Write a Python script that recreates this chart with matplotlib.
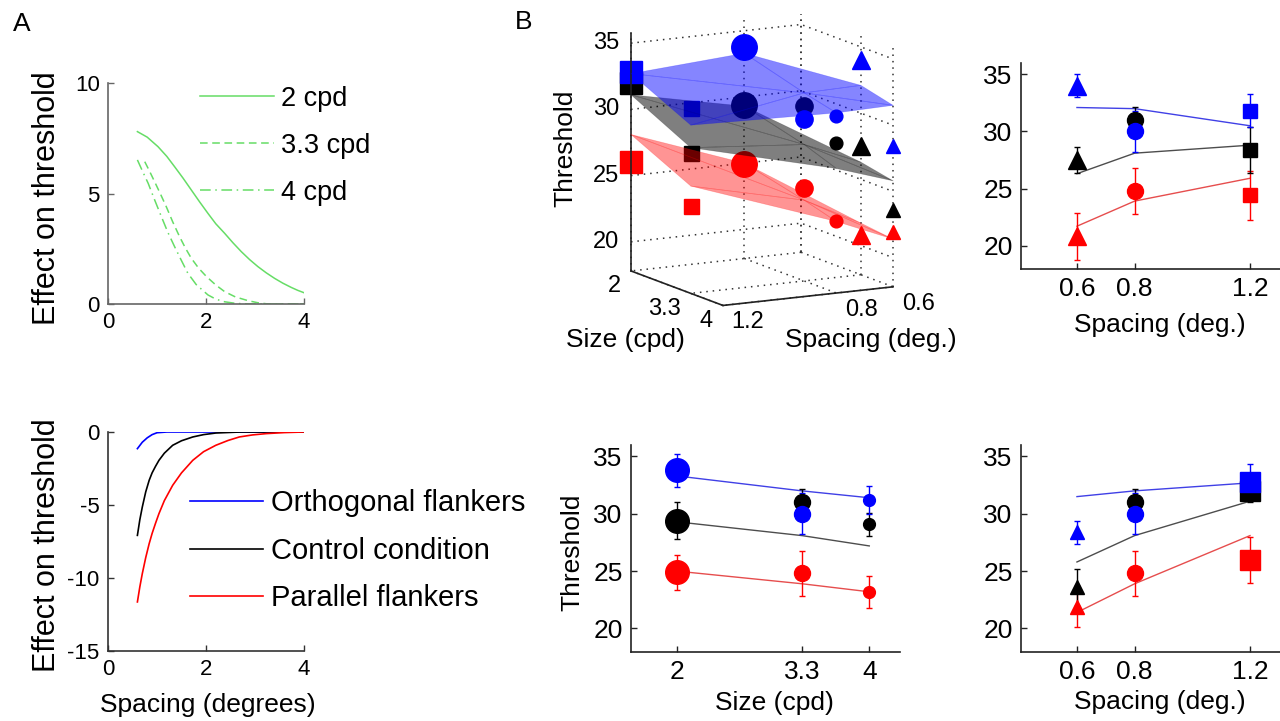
import numpy as np
import matplotlib
matplotlib.use('Agg')
import matplotlib.pyplot as plt
from mpl_toolkits.mplot3d import Axes3D  # noqa: F401
from mpl_toolkits.mplot3d import proj3d

plt.rcParams['font.family'] = ['Liberation Sans', 'DejaVu Sans']
plt.rcParams['axes.unicode_minus'] = False

# ---------------- data: panel A (top) ----------------
a_x_2cpd = [0.6, 0.8, 1.02, 1.2, 1.36, 1.53, 1.70, 1.87, 2.04, 2.2, 2.38, 2.55, 2.72, 2.89,
            3.06, 3.23, 3.40, 3.57, 3.74, 3.87, 4.0]
a_y_2cpd = [7.8, 7.55, 7.12, 6.68, 6.21, 5.7, 5.16, 4.62, 4.10, 3.63, 3.20, 2.77, 2.37, 2.01,
            1.69, 1.41, 1.16, 0.94, 0.75, 0.62, 0.51]
a_x_33cpd = [0.75, 0.85, 0.95, 1.07, 1.19, 1.32, 1.46, 1.58, 1.70, 1.85, 2.01, 2.2, 2.38, 2.6,
             2.86, 3.05, 3.27, 4.0]
a_y_33cpd = [6.44, 6.0, 5.54, 4.98, 4.40, 3.72, 3.05, 2.53, 2.07, 1.62, 1.24, 0.86, 0.56, 0.32,
             0.15, 0.06, 0.0, 0.0]
a_x_4cpd = [0.6, 0.7, 0.82, 0.95, 1.09, 1.22, 1.36, 1.5, 1.63, 1.8, 2.04, 2.2, 2.38, 2.6, 2.86, 4.0]
a_y_4cpd = [6.52, 6.03, 5.46, 4.72, 3.95, 3.25, 2.59, 1.96, 1.39, 0.88, 0.41, 0.22, 0.1, 0.03, 0.0, 0.0]
size_labels_A = ['2 cpd', '3.3 cpd', '4 cpd']

# ---------------- data: panel A (bottom) ----------------
b_x_orth = [0.6, 0.7, 0.8, 0.9, 1.0, 1.2, 4.0]
b_y_orth = [-1.14, -0.7, -0.4, -0.18, -0.05, 0.0, 0.0]
b_x_ctrl = [0.6, 0.65, 0.7, 0.77, 0.84, 0.9, 0.97, 1.04, 1.15, 1.32, 1.5, 1.73, 1.95, 2.2, 2.7, 4.0]
b_y_ctrl = [-7.08, -6.0, -5.14, -4.1, -3.31, -2.8, -2.35, -1.94, -1.45, -0.91, -0.6, -0.34,
            -0.18, -0.07, 0.0, 0.0]
b_x_par = [0.6, 0.65, 0.7, 0.77, 0.84, 0.9, 0.97, 1.04, 1.15, 1.32, 1.5, 1.73, 1.95, 2.2,
           2.45, 2.68, 2.95, 3.23, 3.6, 4.0]
b_y_par = [-11.64, -10.6, -9.7, -8.6, -7.65, -6.95, -6.25, -5.59, -4.7, -3.65, -2.8, -1.94,
           -1.35, -0.91, -0.58, -0.34, -0.2, -0.11, -0.04, 0.0]
cond_labels_A = ['Orthogonal flankers', 'Control condition', 'Parallel flankers']

# ---------------- data: panel B (7 conditions) ----------------
cond_spacing = [1.2, 1.2, 0.8, 0.8, 0.8, 0.6, 0.6]
cond_size = [2, 3.3, 2, 3.3, 4, 3.3, 4]
thr_orth = [32.8, 31.8, 33.8, 30.0, 31.2, 34.0, 28.4]
thr_ctrl = [32.0, 28.4, 29.4, 31.0, 29.1, 27.5, 23.6]
thr_par = [26.0, 24.4, 24.9, 24.8, 23.2, 20.8, 21.9]
err_orth = [1.5, 1.45, 1.45, 1.8, 1.25, 1.0, 1.0]
err_ctrl = [1.0, 2.0, 1.6, 1.15, 1.0, 1.15, 1.6]
err_par = [2.0, 2.15, 1.55, 2.0, 1.4, 2.1, 1.8]
model_orth = [32.7, 30.5, 33.3, 32.0, 31.4, 32.1, 31.5]
model_ctrl = [31.1, 28.8, 29.3, 28.1, 27.2, 26.3, 25.8]
model_par = [28.1, 25.9, 25.0, 23.9, 23.2, 21.7, 21.4]
spacing_ticks = [0.6, 0.8, 1.2]
spacing_ticklabels = ['0.6', '0.8', '1.2']
size_ticks = [2, 3.3, 4]
size_ticklabels = ['2', '3.3', '4']
thr_ticks = [20, 25, 30, 35]
# condition subsets shown in the 2D panels
idx_top_right = [5, 3, 1]     # 3.3 cpd, varying spacing
idx_bottom_mid = [2, 3, 4]    # 0.8 deg spacing, varying size
idx_bottom_right = [6, 3, 0]  # diagonal

# ---------------- styles ----------------
GREEN = '#66dd66'
BLUE, BLACK, RED = '#0000ff', '#000000', '#ff0000'
shape_of = {1.2: 's', 0.8: 'o', 0.6: '^'}
msize = [15, 10, 17, 11.5, 8.5, 12.5, 9.5]
series = [  # drawing order: red, black, blue on top
    (thr_par, err_par, model_par, RED, (0.9, 0.3, 0.3), (1, 0, 0, 0.42)),
    (thr_ctrl, err_ctrl, model_ctrl, BLACK, (0.3, 0.3, 0.3), (0, 0, 0, 0.5)),
    (thr_orth, err_orth, model_orth, BLUE, (0.25, 0.25, 0.9), (0, 0, 1, 0.48)),
]

fig = plt.figure(figsize=(12.8, 7.21), dpi=100)
W, H = 1280.0, 721.0
PT = 72.0 / 100.0  # points per pixel


def px_axes(l, t, r, b):
    return [l / W, 1 - b / H, (r - l) / W, (b - t) / H]


def style2d(ax, spine_col, tickfs):
    for s in ['top', 'right']:
        ax.spines[s].set_visible(False)
    for s in ['left', 'bottom']:
        ax.spines[s].set_color(spine_col)
        ax.spines[s].set_linewidth(1.2)
    ax.tick_params(direction='in', length=4, width=1, color=spine_col,
                   labelsize=tickfs, pad=6)


# ---------------- panel A top ----------------
axA1 = fig.add_axes(px_axes(108, 83, 304, 304))
la = axA1.plot(a_x_2cpd, a_y_2cpd, color=GREEN, lw=1.1, ls='-')[0]
lb = axA1.plot(a_x_33cpd, a_y_33cpd, color=GREEN, lw=1.1, ls=(0, (5, 3)))[0]
lc = axA1.plot(a_x_4cpd, a_y_4cpd, color=GREEN, lw=1.1, ls=(0, (7, 3, 1, 3)))[0]
axA1.set_xlim(0, 4)
axA1.set_ylim(0, 10)
axA1.set_xticks([0, 2, 4])
axA1.set_yticks([0, 5, 10])
style2d(axA1, '#666666', 16)
axA1.set_ylabel('Effect on threshold', fontsize=22, va='center')
axA1.yaxis.set_label_coords(-0.311, 0.48)
axA1.legend([la, lb, lc], size_labels_A, loc='upper left',
            bbox_to_anchor=(0.469, 0.987), frameon=False, fontsize=19.5,
            handlelength=2.75, handletextpad=0.25, labelspacing=0.77,
            borderpad=0, borderaxespad=0)

# ---------------- panel A bottom ----------------
axA2 = fig.add_axes(px_axes(108, 432, 304, 651))
h1 = axA2.plot(b_x_orth, b_y_orth, color=BLUE, lw=1.2)[0]
h2 = axA2.plot(b_x_ctrl, b_y_ctrl, color=BLACK, lw=1.2)[0]
h3 = axA2.plot(b_x_par, b_y_par, color=RED, lw=1.2)[0]
axA2.set_xlim(0, 4)
axA2.set_ylim(-15, 0)
axA2.set_xticks([0, 2, 4])
axA2.set_yticks([-15, -10, -5, 0])
style2d(axA2, '#333333', 16)
axA2.set_ylabel('Effect on threshold', fontsize=22, va='center')
axA2.yaxis.set_label_coords(-0.311, 0.484)
axA2.set_xlabel('Spacing (degrees)', fontsize=19, va='center')
axA2.xaxis.set_label_coords(0.51, -0.247)
axA2.legend([h1, h2, h3], cond_labels_A, loc='upper left',
            bbox_to_anchor=(0.418, 0.738), frameon=False, fontsize=21,
            handlelength=2.5, handletextpad=0.28, labelspacing=0.67,
            borderpad=0, borderaxespad=0)


# ---------------- panel B 2D panels ----------------
def b_panel(ax, idx, xvals):
    for thr, err, mod, col, lcol, _ in series:
        xs = [xvals[i] for i in idx]
        ax.plot(xs, [mod[i] for i in idx], color=lcol, lw=1.0, zorder=2)
        for i in idx:
            ax.errorbar(xvals[i], thr[i], yerr=err[i], fmt='none', ecolor=col,
                        elinewidth=1.0, capsize=2, capthick=1.0, zorder=3)
            ax.plot(xvals[i], thr[i], marker=shape_of[cond_spacing[i]],
                    ms=msize[i], color=col, mec=col, ls='none', zorder=4)
    ax.set_yticks(thr_ticks)
    style2d(ax, '#222222', 19)


axTR = fig.add_axes(px_axes(1021, 63, 1280, 269))
b_panel(axTR, idx_top_right, cond_spacing)
axTR.set_xlim(0.406, 1.304)
axTR.set_ylim(17.95, 36.0)
axTR.set_xticks(spacing_ticks, spacing_ticklabels)
axTR.set_xlabel('Spacing (deg.)', fontsize=19, va='center')
axTR.xaxis.set_label_coords(0.537, -0.272)

axBM = fig.add_axes(px_axes(631, 445, 900, 652))
b_panel(axBM, idx_bottom_mid, cond_size)
axBM.set_xlim(1.52, 4.32)
axBM.set_ylim(17.95, 36.0)
axBM.set_xticks(size_ticks, size_ticklabels)
axBM.set_xlabel('Size (cpd)', fontsize=19, va='center')
axBM.xaxis.set_label_coords(0.535, -0.246)
axBM.set_ylabel('Threshold', fontsize=19, va='center')
axBM.yaxis.set_label_coords(-0.219, 0.483)

axBR = fig.add_axes(px_axes(1021, 445, 1280, 652))
b_panel(axBR, idx_bottom_right, cond_spacing)
axBR.set_xlim(0.406, 1.304)
axBR.set_ylim(17.95, 36.0)
axBR.set_xticks(spacing_ticks, spacing_ticklabels)
axBR.set_xlabel('Spacing (deg.)', fontsize=19, va='center')
axBR.xaxis.set_label_coords(0.537, -0.242)

# ---------------- panel B 3D ----------------
SP_LO, SP_HI = 0.6, 1.2
SZ_LO, SZ_HI = 2, 4
Z_LO, Z_HI = 17.8, 35.8
ax3 = fig.add_axes([0.4457, 0.5129, 0.2914, 0.5173], projection='3d')
ax3.set_facecolor('none')
ax3.set_proj_type('ortho')
ax3.view_init(elev=11.7, azim=61.6)
ax3.set_box_aspect((1, 1, 1.259), zoom=0.953)

# dotted grid on the three back planes (MATLAB style)
grid_kw = dict(color='#333333', lw=1.1, ls=(0, (1, 3.2)))
for z in thr_ticks:
    ax3.plot([SP_HI, SP_LO, SP_LO], [SZ_LO, SZ_LO, SZ_HI], [z, z, z], **grid_kw)
for sp in spacing_ticks:
    ax3.plot([sp, sp], [SZ_LO, SZ_LO], [Z_LO, Z_HI], **grid_kw)
    ax3.plot([sp, sp], [SZ_LO, SZ_HI], [Z_LO, Z_LO], **grid_kw)
for s in size_ticks:
    ax3.plot([SP_LO, SP_LO], [s, s], [Z_LO, Z_HI], **grid_kw)
    ax3.plot([SP_LO, SP_HI], [s, s], [Z_LO, Z_LO], **grid_kw)

for thr, err, mod, col, lcol, fcol in series:
    edge = fcol[:3] + (0.22,)
    ax3.plot_trisurf(cond_spacing, cond_size, mod, color=fcol, shade=False,
                     edgecolor=edge, linewidth=0.5)
    for i in range(len(thr)):
        ax3.plot([cond_spacing[i]], [cond_size[i]], [thr[i]],
                 marker=shape_of[cond_spacing[i]], ms=msize[i] * 1.08,
                 color=col, mec=col, ls='none')

# axis lines (MATLAB-like)
ax_col = '#222222'
ax3.plot([SP_HI, SP_HI], [SZ_LO, SZ_LO], [Z_LO, Z_HI], color=ax_col, lw=1.2)
ax3.plot([SP_HI, SP_HI], [SZ_LO, SZ_HI], [Z_LO, Z_LO], color=ax_col, lw=1.2)
ax3.plot([SP_LO, SP_HI], [SZ_HI, SZ_HI], [Z_LO, Z_LO], color=ax_col, lw=1.2)

ax3.set_xticks([])
ax3.set_yticks([])
ax3.set_zticks([])
ax3.grid(False)
for axis in (ax3.xaxis, ax3.yaxis, ax3.zaxis):
    axis.set_pane_color((1, 1, 1, 0))
    axis.line.set_visible(False)
ax3.set_xlim(SP_LO, SP_HI)
ax3.set_ylim(SZ_LO, SZ_HI)
ax3.set_zlim(Z_LO, Z_HI)

# tick labels of the 3D box, placed at the projected tick positions
M3 = ax3.get_proj()


def tick3d(x, y, z, s, dx_px, dy_px, ha):
    px, py, _ = proj3d.proj_transform(x, y, z, M3)
    ax3.annotate(s, xy=(px, py), xycoords='data', textcoords='offset points',
                 xytext=(dx_px * PT, -dy_px * PT), ha=ha, va='center',
                 fontsize=17, annotation_clip=False)


for z in thr_ticks:
    tick3d(SP_HI, SZ_LO, z, str(z), -12, 0, 'right')
for s, lab in zip(size_ticks, size_ticklabels):
    tick3d(SP_HI, s, Z_LO, lab, -10, 15.5, 'right')
for sp, lab in zip(spacing_ticks, spacing_ticklabels):
    tick3d(sp, SZ_HI, Z_LO, lab, 25, 17, 'center')

fig.text(565 / W, 1 - 148 / H, 'Threshold', rotation=90, ha='center', va='center', fontsize=19)
fig.text(625 / W, 1 - 340 / H, 'Size (cpd)', ha='center', va='center', fontsize=19)
fig.text(871 / W, 1 - 340 / H, 'Spacing (deg.)', ha='center', va='center', fontsize=19)

# panel letters
fig.text(22 / W, 1 - 24 / H, 'A', ha='center', va='center', fontsize=19)
fig.text(524 / W, 1 - 22 / H, 'B', ha='center', va='center', fontsize=19)

fig.savefig('out.png', dpi=100)
